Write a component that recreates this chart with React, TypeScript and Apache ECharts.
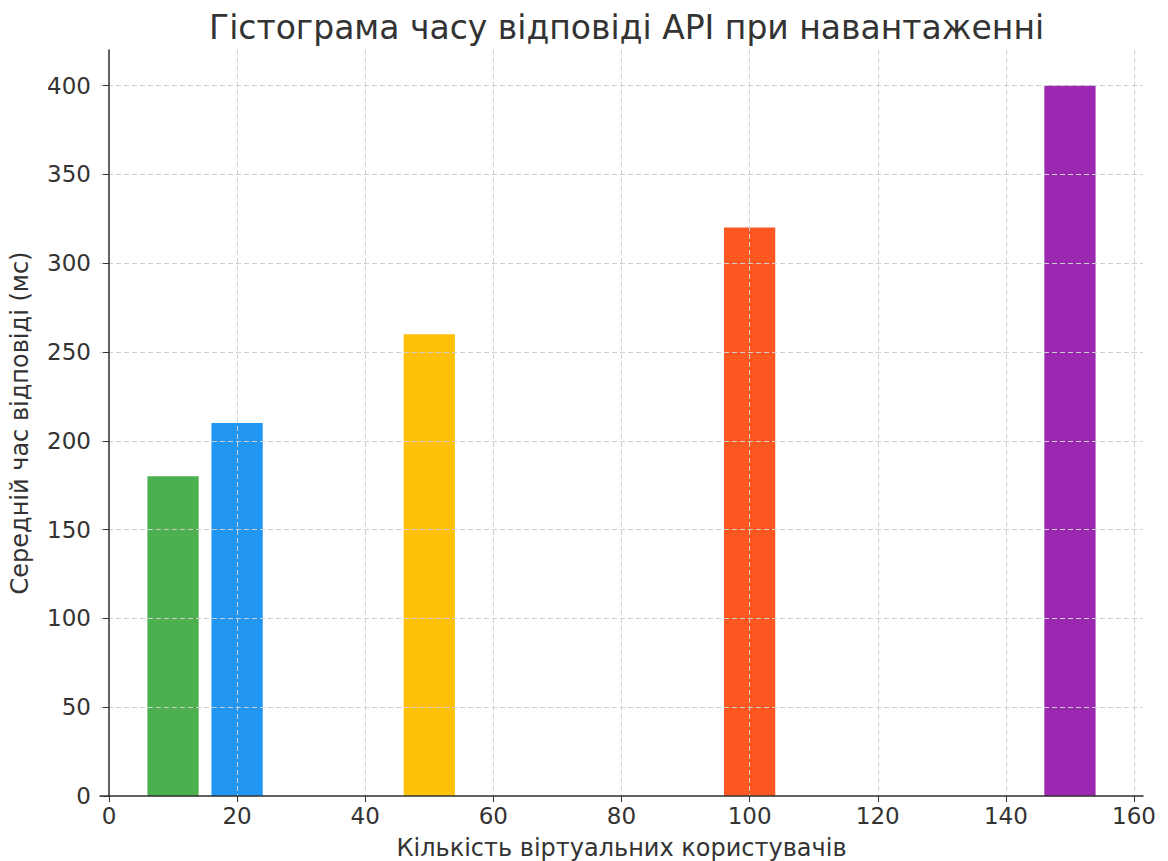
import React, { useEffect, useRef } from "react";
import * as echarts from "echarts";

const users = [10, 20, 50, 100, 150];
const responseMs = [180, 210, 260, 320, 400];
const barColors = ["#4CAF50", "#2196F3", "#FFC107", "#FF5722", "#9C27B0"];
const xTicks = [0, 20, 40, 60, 80, 100, 120, 140, 160];
const yTicks = [0, 50, 100, 150, 200, 250, 300, 350, 400];
const barSpan = 8;

const title = "Гістограма часу відповіді API при навантаженні";
const xName = "Кількість віртуальних користувачів";
const yName = "Середній час відповіді (мс)";

export default function App() {
  const ref = useRef<HTMLDivElement>(null);
  useEffect(() => {
    if (!ref.current) return;
    const chart = echarts.init(ref.current, null, { renderer: "svg" });
    const font = "DejaVu Sans";
    const gridLine = { show: true, lineStyle: { color: "#cfcfcf", type: [5, 3], width: 1 } };
    chart.setOption({
      animation: false,
      backgroundColor: "#ffffff",
      title: {
        text: title,
        left: 204,
        top: 6,
        textStyle: { fontFamily: font, fontSize: 33, fontWeight: "normal", color: "#333" },
      },
      grid: { left: 100, right: 25, top: 50, bottom: 65, outerBoundsMode: "none", containLabel: false },
      xAxis: {
        type: "value",
        min: -1.4,
        max: 161.4,
        z: 5,
        name: xName,
        nameLocation: "middle",
        nameGap: 40,
        nameTextStyle: { fontFamily: font, fontSize: 24, color: "#333" },
        axisLine: { show: true, onZero: false, lineStyle: { color: "#333", width: 1.5 } },
        axisTick: { show: true, length: 6, customValues: xTicks, lineStyle: { color: "#333" } },
        axisLabel: { customValues: xTicks, fontFamily: font, fontSize: 23, color: "#333", margin: 8 },
        splitLine: gridLine,
      },
      yAxis: {
        type: "value",
        min: 0,
        max: 420,
        z: 5,
        name: yName,
        nameLocation: "middle",
        nameGap: 68,
        nameTextStyle: { fontFamily: font, fontSize: 24, color: "#333" },
        axisLine: { show: true, lineStyle: { color: "#333", width: 1.5 } },
        axisTick: { show: true, length: 6, customValues: yTicks, lineStyle: { color: "#333" } },
        axisLabel: { customValues: yTicks, fontFamily: font, fontSize: 23, color: "#333", margin: 9 },
        splitLine: gridLine,
      },
      series: [
        {
          type: "custom",
          z: 2,
          data: users.map((u, i) => [u, responseMs[i]]),
          renderItem: (params: any, api: any) => {
            const x = api.value(0);
            const y = api.value(1);
            const p0 = api.coord([x - barSpan / 2, y]);
            const p1 = api.coord([x + barSpan / 2, 0]);
            return {
              type: "rect",
              shape: { x: p0[0], y: p0[1], width: p1[0] - p0[0], height: p1[1] - p0[1] },
              style: { fill: barColors[params.dataIndex] },
            };
          },
        },
      ],
    });
    return () => chart.dispose();
  }, []);
  return (
    <div
      ref={ref}
      style={{ position: "fixed", left: 0, top: 0, width: 1168, height: 861 }}
    />
  );
}
